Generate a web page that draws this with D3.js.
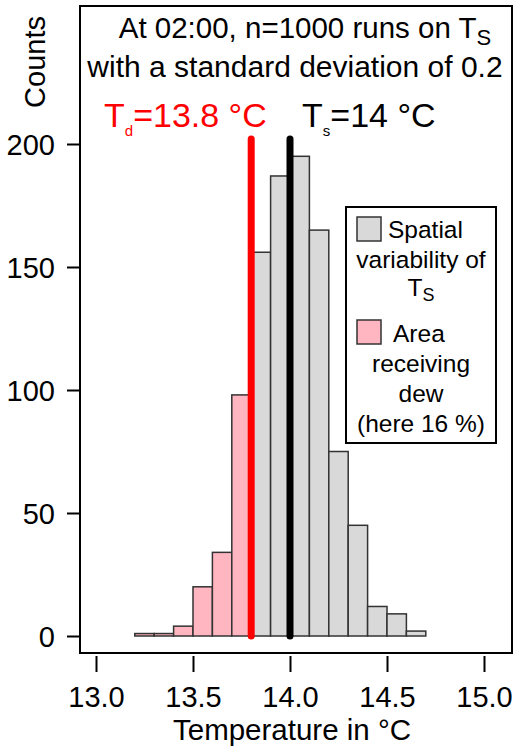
<!DOCTYPE html>
<html>
<head>
<meta charset="utf-8">
<style>
  body { margin: 0; background: #fff; }
  text { font-family: "Liberation Sans", Arial, sans-serif; }
</style>
</head>
<body>
<script src="https://cdn.jsdelivr.net/npm/d3@7"></script>
<svg id="chart" width="515" height="748"></svg>
<script>
// histogram bins (left edges, width 0.1) and counts
const binStarts = [13.2, 13.3, 13.4, 13.5, 13.6, 13.7, 13.8, 13.9, 14.0, 14.1, 14.2, 14.3, 14.4, 14.5, 14.6];
const counts    = [1, 1, 4, 20, 34, 98, 156, 187, 195, 165, 75, 45, 12, 9, 2];
const binWidth = 0.1;
const Td = 13.8;
const Ts = 14.0;
const xTicks = [13.0, 13.5, 14.0, 14.5, 15.0];
const yTicks = [0, 50, 100, 150, 200];

const svg = d3.select("#chart");
const x = d3.scaleLinear().domain([13, 15]).range([96, 484]);
const y = d3.scaleLinear().domain([0, 200]).range([636, 144]);

// plot box
svg.append("rect")
    .attr("x", 80).attr("y", 6)
    .attr("width", 432).attr("height", 647)
    .style("fill", "none").style("stroke", "black").style("stroke-width", "2px");

// y axis
const yAxis = d3.axisLeft(y).tickValues(yTicks).tickSize(13).tickPadding(12);
const yG = svg.append("g").attr("transform", "translate(80,0)").call(yAxis);
yG.select(".domain").remove();
yG.selectAll("line").style("stroke", "black").style("stroke-width", "2px");
yG.selectAll("text").style("font-size", "29px").style("font-family", "Liberation Sans, Arial").attr("fill", "black").attr("dy", "0.35em");

// x axis
const xAxis = d3.axisBottom(x).tickValues(xTicks).tickSize(16).tickPadding(14).tickFormat(d3.format(".1f"));
const xG = svg.append("g").attr("transform", "translate(0,656)").call(xAxis);
xG.select(".domain").remove();
xG.selectAll("line").style("stroke", "black").style("stroke-width", "2px");
xG.selectAll("text").style("font-size", "29px").style("font-family", "Liberation Sans, Arial").attr("fill", "black");

// axis titles
svg.append("text")
    .attr("x", 292).attr("y", 740)
    .attr("text-anchor", "middle")
    .style("font-size", "29.5px")
    .text("Temperature in °C");
svg.append("text")
    .attr("transform", "translate(45,62) rotate(-90)")
    .attr("text-anchor", "middle")
    .style("font-size", "29px")
    .text("Counts");

// bars
svg.selectAll("rect.bar")
    .data(binStarts)
    .enter()
    .append("rect")
    .attr("class", "bar")
    .attr("x", d => x(d))
    .attr("width", d => x(d + binWidth) - x(d))
    .attr("y", (d, i) => y(counts[i]))
    .attr("height", (d, i) => y(0) - y(counts[i]))
    .style("fill", d => d < Td - 1e-9 ? "#ffb6c1" : "#d9d9d9")
    .style("stroke", "#333")
    .style("stroke-width", "1.5px");

// vertical lines for Td and Ts
[[Td, "red"], [Ts, "black"]].forEach(function(p) {
    svg.append("line")
        .attr("x1", x(p[0])).attr("x2", x(p[0]))
        .attr("y1", y(0)).attr("y2", y(202))
        .style("stroke", p[1])
        .style("stroke-width", "7px")
        .style("stroke-linecap", "round");
});

// title
const t1 = svg.append("text").attr("x", 305).attr("y", 38).attr("text-anchor", "middle").style("font-size", "29.5px");
t1.append("tspan").text("At 02:00, n=1000 runs on T");
t1.append("tspan").attr("dy", 7).style("font-size", "22px").text("S");
svg.append("text").attr("x", 295).attr("y", 77).attr("text-anchor", "middle").style("font-size", "30px")
    .text("with a standard deviation of 0.2");

// Td and Ts labels
const tdL = svg.append("text").attr("x", 104).attr("y", 127).attr("fill", "red").style("font-size", "34px");
tdL.append("tspan").text("T");
tdL.append("tspan").attr("dy", 9).style("font-size", "15px").text("d");
tdL.append("tspan").attr("dy", -9).text("=13.8 °C");
const tsL = svg.append("text").attr("x", 302).attr("y", 127).attr("fill", "black").style("font-size", "34px");
tsL.append("tspan").text("T");
tsL.append("tspan").attr("dy", 9).style("font-size", "15px").text("s");
tsL.append("tspan").attr("dy", -9).text("=14 °C");

// legend
const lg = svg.append("g");
lg.append("rect").attr("x", 346).attr("y", 207).attr("width", 150).attr("height", 236)
    .style("fill", "white").style("stroke", "black").style("stroke-width", "2px");
lg.append("rect").attr("x", 357).attr("y", 217).attr("width", 24).attr("height", 24)
    .style("fill", "#d9d9d9").style("stroke", "#333").style("stroke-width", "1.5px");
lg.append("rect").attr("x", 357).attr("y", 320).attr("width", 24).attr("height", 24)
    .style("fill", "#ffb6c1").style("stroke", "#333").style("stroke-width", "1.5px");
const lgFont = "24.5px";
lg.append("text").attr("x", 388).attr("y", 238).style("font-size", lgFont).text("Spatial");
lg.append("text").attr("x", 421).attr("y", 268).attr("text-anchor", "middle").style("font-size", lgFont).text("variability of");
const lts = lg.append("text").attr("x", 421).attr("y", 296).attr("text-anchor", "middle").style("font-size", lgFont);
lts.append("tspan").text("T");
lts.append("tspan").attr("dy", 5).style("font-size", "18px").text("S");
lg.append("text").attr("x", 393).attr("y", 342).style("font-size", lgFont).text("Area");
lg.append("text").attr("x", 421).attr("y", 372).attr("text-anchor", "middle").style("font-size", lgFont).text("receiving");
lg.append("text").attr("x", 421).attr("y", 402).attr("text-anchor", "middle").style("font-size", lgFont).text("dew");
lg.append("text").attr("x", 421).attr("y", 432).attr("text-anchor", "middle").style("font-size", lgFont).text("(here 16 %)");
</script>
</body>
</html>
